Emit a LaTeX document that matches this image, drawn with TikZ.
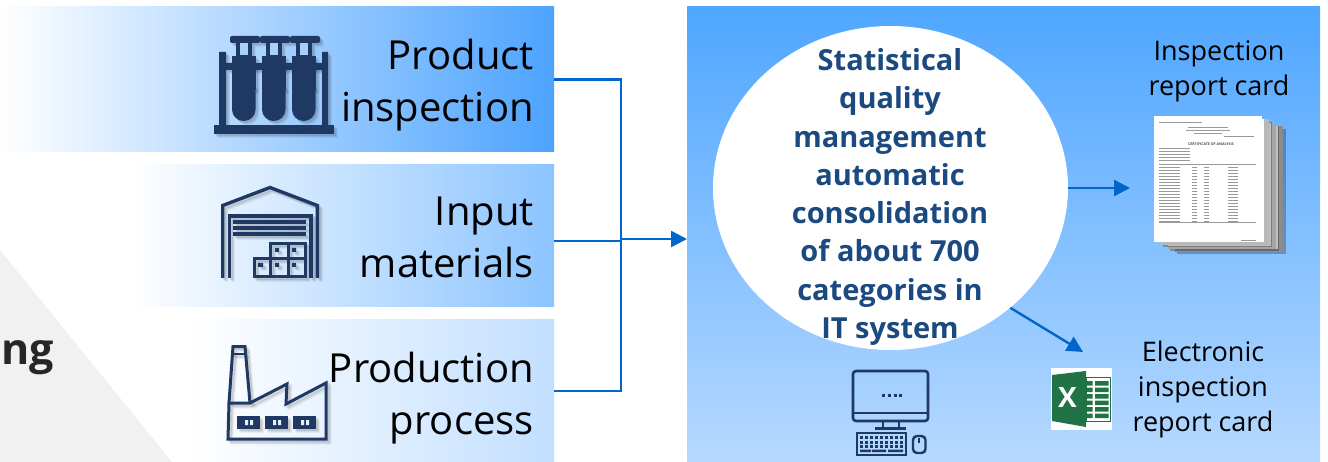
\documentclass[tikz,border=0pt]{standalone}
\usepackage{fontspec}
\setmainfont{Open Sans}
\usetikzlibrary{shapes.geometric,arrows.meta}
\definecolor{iconc}{HTML}{1F3864}
\definecolor{navy}{HTML}{1F3864}
\definecolor{linkc}{HTML}{0066CC}
\definecolor{headc}{HTML}{1B4A80}
\definecolor{winc}{HTML}{A8D0FA}
\definecolor{winb}{HTML}{E4F0FE}
\tikzset{
  x=1pt,y=-1pt,
  banner/.style={minimum height=#1,inner sep=0,outer sep=0,anchor=north west},
  bigtxt/.style={font=\fontsize{40}{52}\selectfont,align=right,anchor=east,inner sep=0,text=black},
  smalltxt/.style={font=\fontsize{27}{35}\selectfont,align=center,inner sep=0,text=black},
  thin link/.style={draw=linkc,line width=1.1pt},
  thick link/.style={draw=linkc,line width=2.2pt},
  arrowlink/.style={draw=linkc,line width=2.4pt,-{Triangle[length=16pt,width=16pt]}},
  tubes/.pic={
    \fill[iconc] (214,125) rectangle (334,134);
    \fill[iconc] (219,52) rectangle (226,125) (322,52) rectangle (328,125) (226,63) rectangle (322,70);
    \foreach \x in {232,262,292}{
      \fill[iconc,rounded corners=11.5pt] (\x,80) -- (\x,121) -- (\x+23.5,121) -- (\x+23.5,80) -- cycle;
      \fill[iconc] (\x,56) rectangle (\x+23.5,90);
      \fill[iconc] (\x+4,43) rectangle (\x+20,60);
      \fill[iconc,rounded corners=2pt] (\x-2,36) rectangle (\x+28,43);
      \fill[winc] (\x+8,43) rectangle (\x+16,55);
    }
  },
  shed/.pic={
    \draw[iconc,line width=3.4pt,line join=miter] (222.7,278) -- (222.7,205.5) -- (270,187.5) -- (317.3,205.5) -- (317.3,278);
    \draw[iconc,line width=3.4pt] (229.5,278) -- (229.5,216) -- (311,216) -- (311,278);
    \draw[iconc,line width=3.4pt] (233,222) -- (306,222) (233,228) -- (306,228) (233,234) -- (306,234);
    \draw[iconc,line width=3pt] (254,259) rectangle (270,277) (270,259) rectangle (288,277) (288,259) rectangle (305,277)
      (270,244) rectangle (288,259) (288,244) rectangle (305,259);
    \fill[iconc] (258,263) rectangle (263,267) (275,263) rectangle (279,267) (292,263) rectangle (296,267)
      (275,248) rectangle (279,252) (292,248) rectangle (296,252);
  },
  factory/.pic={
    \draw[iconc,line width=3pt,line join=miter] (228,439) -- (326,439) -- (326,383) -- (286,404) -- (287,384) -- (250,403) -- (229,403) -- cycle;
    \draw[iconc,line width=3pt,line join=miter] (229,403) -- (233,346.5) -- (245,346.5) -- (250,403);
    \draw[iconc,line width=2pt] (232,354) -- (246,354);
    \foreach \x in {237,265,293}{
      \fill[iconc] (\x,416) rectangle (\x+23,429);
      \fill[winb] (\x+8,420) rectangle (\x+11,425) (\x+13,420) rectangle (\x+16,425);
    }
  },
}
\begin{document}
\begin{tikzpicture}
\useasboundingbox (0,0) rectangle (1328,462);
\fill[white] (0,0) rectangle (1328,462);
% grey triangle and cut-off word
\fill[black!5.5] (0,250) -- (172,462) -- (0,462) -- cycle;
\node[anchor=base east,inner sep=0,font=\fontsize{43}{48}\selectfont\bfseries,text=black!85] (word) at (54,364) {ng};
% banners
\definecolor{bA}{HTML}{4DA3FF}\definecolor{bB}{HTML}{8CC4FF}\definecolor{bC}{HTML}{C2DFFF}
\node[banner=145pt,minimum width=554pt,left color=white,right color=bA] (prod) at (0,7) {};
\node[banner=142pt,minimum width=424pt,left color=white,right color=bB] (input) at (130,165) {};
\node[banner=142pt,minimum width=364pt,left color=white,right color=bC] (proc) at (190,320) {};
% panel
\definecolor{pA}{HTML}{4FA6FF}\definecolor{pB}{HTML}{B6D9FF}
\node[banner=455pt,minimum width=633pt,top color=pA,bottom color=pB] (panel) at (687,7) {};
% icons: soft shadows, then solid
\foreach \dx/\op in {4/.05,3/.07,2/.09}{
  \begin{scope}[shift={(\dx,\dx)},opacity=\op]
    \colorlet{iconc}{black}\colorlet{winc}{black}\colorlet{winb}{black}
    \pic {tubes}; \pic {shed}; \pic {factory};
  \end{scope}
}
\pic {tubes}; \pic {shed}; \pic {factory};
% banner text
\node[bigtxt] (t1) at (534,85) {Product\\inspection};
\node[bigtxt] (t2) at (534,237.5) {Input\\materials};
\node[bigtxt] (t3) at (534,398) {Production\\process};
% connectors
\coordinate (jct) at (621,239);
\draw[thick link] (prod.east) -- (621,79.5) -- (jct);
\draw[thin link] (input.east |- 0,241) -- (621,241);
\draw[thin link] (proc.east) -- (621,391) -- (jct);
\draw[arrowlink] (jct) -- (jct -| panel.west);
% circle
\node[ellipse,fill=white,minimum width=355pt,minimum height=324pt,inner sep=0] (circ) at (890.5,188) {};
\node[align=center,inner sep=0,text=headc,font=\fontsize{29}{38.3}\selectfont\bfseries] (ctext) at (890,197)
 {Statistical\\quality\\management\\automatic\\consolidation\\of about 700\\categories in\\IT system};
% right labels
\node[smalltxt] (l1) at (1219,71) {Inspection\\report card};
\node[smalltxt] (l2) at (1203,389) {Electronic\\inspection\\report card};
% report stack
\foreach \k/\dx/\dy/\c in {3/21/10/black!45,2/14/7/black!35,1/7/3/black!28}{
  \fill[black,opacity=.25] (1154+\dx+2,116+\dy+3) rectangle (1262+\dx+3,242+\dy+2);
  \fill[white] (1154+\dx,116+\dy) rectangle (1262+\dx,242+\dy);
  \fill[\c] (1262+\dx-5,116+\dy) rectangle (1262+\dx,242+\dy);
  \fill[\c] (1154+\dx,242+\dy-2.5) rectangle (1262+\dx,242+\dy);
}
\node[fill=white,minimum width=108pt,minimum height=126pt,inner sep=0,anchor=north west] (sheet) at (1154,116) {};
\node[font=\fontsize{3.6}{4}\selectfont\bfseries,text=black!70,inner sep=0] (certtitle) at (1211,144) {CERTIFICATE OF ANALYSIS};
\begin{scope}[black!40,line width=.6pt]
  \draw (1159,122.5) -- (1202,122.5);
  \draw (1188,127) -- (1228,127) (1186,130) -- (1230,130) (1194,133) -- (1222,133);
  \draw (1224,136) -- (1254,136);
  \foreach \y in {148,151,154,157,160}{\draw (1159,\y) -- (1190,\y);}
  \draw (1159,164) -- (1256,164);
  \draw (1159,222) -- (1256,222);
  \foreach \y in {167,170,...,221}{
    \draw (1159,\y) -- (1180,\y) (1192,\y) -- (1197,\y) (1204,\y) -- (1209,\y) (1228,\y) -- (1238,\y);
  }
  \draw (1241,240) -- (1256,240);
\end{scope}
% excel
\node[fill=white,minimum width=61pt,minimum height=62pt,inner sep=0,anchor=north west] (xl) at (1051,368) {};
\definecolor{xg}{HTML}{217346}
\fill[xg] (1052,375) -- (1086,371) -- (1086,427) -- (1052,421) -- cycle;
\draw[xg,line width=1pt] (1086,377.5) rectangle (1110.5,421);
\foreach \y in {381,387.5,394,400.5,407,413.5}{\fill[xg] (1086,\y) rectangle (1092.5,\y+4.5) (1095,\y) rectangle (1108.5,\y+4.5);}
\node[text=white,inner sep=0,font=\fontsize{28}{30}\selectfont\bfseries] (xlx) at (1067.5,398) {X};
% computer
\draw[navy,line width=2.6pt,rounded corners=3pt] (853,371) rectangle (928,421);
\draw[navy,line width=2.4pt] (853,413) -- (928,413);
\foreach \x in {881.5,887.5,893.5,899}{\fill[navy] (\x,393.5) rectangle (\x+3,397);}
\draw[navy,line width=2.6pt] (883,421) -- (883,428) (899,421) -- (899,428);
\fill[navy] (875,426.5) rectangle (906,430);
\draw[navy,line width=2.6pt] (857,433) rectangle (906,455);
\foreach \y in {436,440.5,445}{\foreach \x in {860,865,...,900}{\fill[navy] (\x,\y) rectangle (\x+3.2,\y+3);}}
\fill[navy] (860,449.5) rectangle (871,452) (872,449.5) rectangle (886,452) (888,449.5) rectangle (903,452);
\draw[navy,line width=2.4pt,rounded corners=4pt] (913,436) rectangle (925.5,453);
\draw[navy,line width=1.6pt] (919,438) -- (919,443);
% arrows from circle
\coordinate (toreport) at (1130,188);
\coordinate (toxl) at (1083,352);
\draw[arrowlink] (circ.east |- toreport) -- (toreport);
\draw[arrowlink] (circ.315) -- (toxl);
\end{tikzpicture}
\end{document}
